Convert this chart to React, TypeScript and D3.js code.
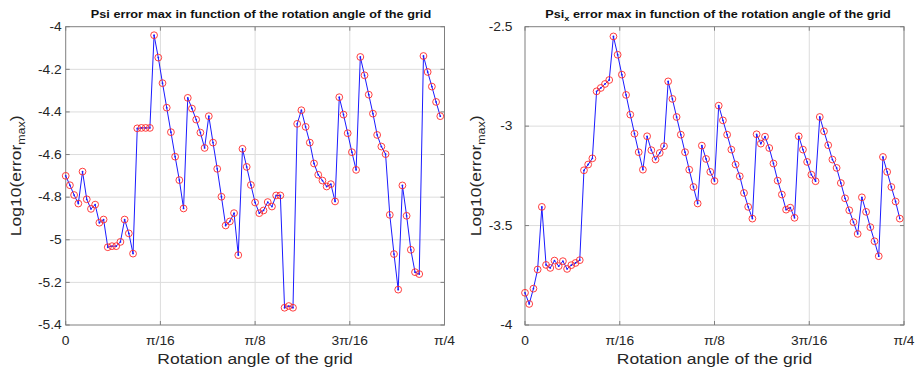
import React from "react";
import * as d3 from "d3";

const psiValues = [
  -4.70, -4.744, -4.79, -4.83, -4.68, -4.81, -4.855, -4.835, -4.92, -4.905,
  -5.035, -5.03, -5.03, -5.01, -4.905, -4.97, -5.065, -4.477, -4.475, -4.475,
  -4.475, -4.04, -4.145, -4.265, -4.38, -4.495, -4.61, -4.72, -4.853, -4.334,
  -4.384, -4.436, -4.497, -4.569, -4.42, -4.544, -4.667, -4.798, -4.933, -4.914,
  -4.875, -5.072, -4.573, -4.658, -4.743, -4.825, -4.875, -4.8625, -4.823, -4.844,
  -4.792, -4.792, -5.319, -5.311, -5.319, -4.456, -4.392, -4.47, -4.544, -4.642,
  -4.695, -4.722, -4.75, -4.739, -4.82, -4.331, -4.4125, -4.5, -4.589, -4.672,
  -4.142, -4.228, -4.319, -4.408, -4.508, -4.5625, -4.598, -4.883, -5.067, -5.234,
  -4.745, -4.8875, -5.047, -5.152, -5.161, -4.1375, -4.2125, -4.281, -4.353, -4.42,
];

const psiXValues = [
  -3.838, -3.894, -3.817, -3.721, -3.406, -3.698, -3.713, -3.676, -3.704, -3.679,
  -3.718, -3.699, -3.688, -3.674, -3.222, -3.193, -3.162, -2.825, -2.808, -2.788,
  -2.768, -2.549, -2.641, -2.741, -2.843, -2.942, -3.038, -3.131, -3.219, -3.051,
  -3.121, -3.168, -3.135, -3.101, -2.775, -2.863, -2.954, -3.043, -3.131, -3.219,
  -3.306, -3.389, -3.098, -3.165, -3.23, -3.276, -2.897, -2.971, -3.043, -3.118,
  -3.193, -3.252, -3.336, -3.406, -3.465, -3.041, -3.088, -3.053, -3.11, -3.188,
  -3.274, -3.344, -3.42, -3.41, -3.461, -3.051, -3.118, -3.18, -3.244, -3.277,
  -2.954, -3.026, -3.096, -3.168, -3.21, -3.286, -3.363, -3.423, -3.483, -3.542,
  -3.358, -3.431, -3.508, -3.579, -3.654, -3.155, -3.23, -3.306, -3.379, -3.465,
];

const angleStepDeg = 0.5;
const xTickValues = [0, Math.PI / 16, Math.PI / 8, (3 * Math.PI) / 16, Math.PI / 4];
const xTickLabels = ["0", "π/16", "π/8", "3π/16", "π/4"];
const leftYTicks = [-5.4, -5.2, -5, -4.8, -4.6, -4.4, -4.2, -4];
const leftYTickLabels = ["-5.4", "-5.2", "-5", "-4.8", "-4.6", "-4.4", "-4.2", "-4"];
const rightYTicks = [-4, -3.5, -3, -2.5];
const rightYTickLabels = ["-4", "-3.5", "-3", "-2.5"];

const FONT = "'Liberation Sans', Arial, Helvetica, sans-serif";

type STextProps = {
  x: number;
  y: number;
  rotate?: number;
  sx?: number;
  size: number;
  anchor?: "start" | "middle" | "end";
  bold?: boolean;
  children: React.ReactNode;
};

function SText({ x, y, rotate = 0, sx = 1.15, size, anchor = "middle", bold = false, children }: STextProps) {
  return (
    <text
      transform={`translate(${x},${y}) rotate(${rotate}) scale(${sx},1)`}
      textAnchor={anchor}
      fontSize={size}
      fontWeight={bold ? "bold" : "normal"}
      fontFamily={FONT}
      fill={bold ? "#111" : "#262626"}
    >
      {children}
    </text>
  );
}

type PanelProps = {
  values: number[];
  x0: number;
  x1: number;
  yDomain: [number, number];
  yTicks: number[];
  yTickLabels: string[];
  title: React.ReactNode;
  titleX: number;
  ylabelX: number;
  yTickRight: number;
};

function Panel({ values, x0, x1, yDomain, yTicks, yTickLabels, title, titleX, ylabelX, yTickRight }: PanelProps) {
  const top = 26.7;
  const bottom = 325;
  const x = d3.scaleLinear().domain([0, Math.PI / 4]).range([x0, x1]);
  const y = d3.scaleLinear().domain(yDomain).range([bottom, top]);
  const pts = values.map((v, i) => [((i * angleStepDeg) * Math.PI) / 180, v] as [number, number]);
  const line = d3
    .line<[number, number]>()
    .x((d) => x(d[0]))
    .y((d) => y(d[1]));
  const gridColor = "#dcdcdc";
  const axisColor = "#7f7f7f";
  return (
    <g>
      <rect x={x0} y={top} width={x1 - x0} height={bottom - top} fill="#fff" />
      {xTickValues.slice(1, -1).map((t, i) => (
        <line key={"gx" + i} x1={x(t)} x2={x(t)} y1={top} y2={bottom} stroke={gridColor} strokeWidth={1} />
      ))}
      {yTicks.slice(1, -1).map((t, i) => (
        <line key={"gy" + i} x1={x0} x2={x1} y1={y(t)} y2={y(t)} stroke={gridColor} strokeWidth={1} />
      ))}
      {xTickValues.map((t, i) => (
        <g key={"tx" + i}>
          <line x1={x(t)} x2={x(t)} y1={bottom} y2={bottom - 4} stroke={axisColor} />
          <line x1={x(t)} x2={x(t)} y1={top} y2={top + 4} stroke={axisColor} />
          <SText x={x(t)} y={344.7} size={12}>
            {xTickLabels[i]}
          </SText>
        </g>
      ))}
      {yTicks.map((t, i) => (
        <g key={"ty" + i}>
          <line x1={x0} x2={x0 + 4} y1={y(t)} y2={y(t)} stroke={axisColor} />
          <line x1={x1} x2={x1 - 4} y1={y(t)} y2={y(t)} stroke={axisColor} />
          <SText x={yTickRight} y={y(t) + 4.3} size={12} anchor="end">
            {yTickLabels[i]}
          </SText>
        </g>
      ))}
      <rect x={x0} y={top} width={x1 - x0} height={bottom - top} fill="none" stroke={axisColor} strokeWidth={1} />
      <path d={line(pts) || ""} fill="none" stroke="#1a1aff" strokeWidth={1} />
      {pts.map((p, i) => (
        <circle key={"d" + i} cx={x(p[0])} cy={y(p[1])} r={0.9} fill="#1a1aff" />
      ))}
      {pts.map((p, i) => (
        <circle key={"c" + i} cx={x(p[0])} cy={y(p[1])} r={3.4} fill="none" stroke="#ff2a2a" strokeWidth={0.9} />
      ))}
      <SText x={titleX} y={17.5} size={10.4} sx={1.22} bold>
        {title}
      </SText>
      <SText x={(x0 + x1) / 2} y={364} size={15.5} sx={1.13}>
        Rotation angle of the grid
      </SText>
      <SText x={ylabelX} y={(top + bottom) / 2} rotate={-90} size={15.5} sx={1.13}>
        Log10(error
        <tspan fontSize={11} dy={4.5}>max</tspan>
        <tspan dy={-4.5}>)</tspan>
      </SText>
    </g>
  );
}

export default function App() {
  return (
    <svg width={916} height={374} style={{ position: "absolute", left: 0, top: 0, background: "#fff" }}>
      <rect width={916} height={374} fill="#fff" />
      <Panel
        values={psiValues}
        x0={65.7}
        x1={444.5}
        yDomain={[-5.4, -4]}
        yTicks={leftYTicks}
        yTickLabels={leftYTickLabels}
        title={"Psi error max in function of the rotation angle of the grid"}
        titleX={261}
        ylabelX={20.5}
        yTickRight={61.7}
      />
      <Panel
        values={psiXValues}
        x0={525}
        x1={904}
        yDomain={[-4, -2.5]}
        yTicks={rightYTicks}
        yTickLabels={rightYTickLabels}
        title={
          <>
            Psi<tspan fontSize={7.5} dy={3}>x</tspan>
            <tspan dy={-3}> error max in function of the rotation angle of the grid</tspan>
          </>
        }
        titleX={718}
        ylabelX={480.5}
        yTickRight={512.5}
      />
    </svg>
  );
}
